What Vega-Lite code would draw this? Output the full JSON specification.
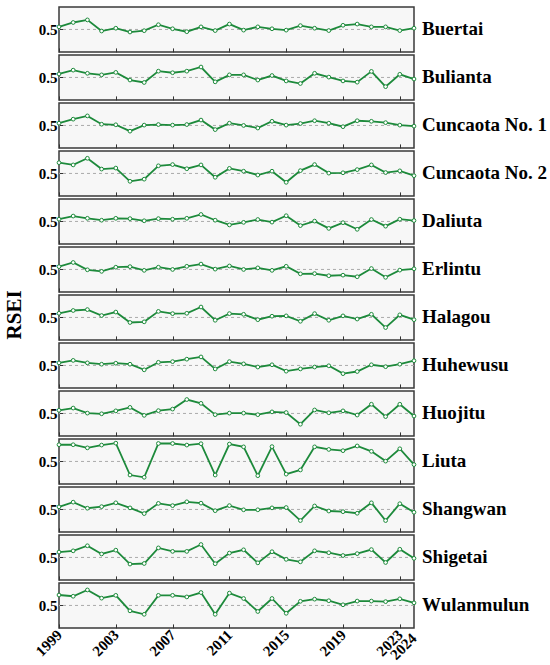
{
  "$schema": "https://vega.github.io/schema/vega-lite/v6.json",
  "padding": {"left": 4, "top": 6, "right": 0, "bottom": 0},
  "title": {"text": "RSEI", "orient": "left", "anchor": "middle", "angle": 270, "align": "center", "baseline": "bottom", "offset": -14, "dx": 20, "fontSize": 21, "font": "Liberation Serif", "fontWeight": "bold", "color": "black"},
  "data": {"values": [
    {"year": 1999, "Buertai": 0.523, "Bulianta": 0.531, "Cuncaota1": 0.52, "Cuncaota2": 0.596, "Daliuta": 0.52, "Erlintu": 0.525, "Halagou": 0.537, "Huhewusu": 0.523, "Huojitu": 0.528, "Liuta": 0.649, "Shangwan": 0.523, "Shigetai": 0.548, "Wulanmulun": 0.593},
    {"year": 2000, "Buertai": 0.562, "Bulianta": 0.565, "Cuncaota1": 0.556, "Cuncaota2": 0.576, "Daliuta": 0.548, "Erlintu": 0.562, "Halagou": 0.562, "Huhewusu": 0.545, "Huojitu": 0.548, "Liuta": 0.649, "Shangwan": 0.565, "Shigetai": 0.559, "Wulanmulun": 0.582},
    {"year": 2001, "Buertai": 0.585, "Bulianta": 0.537, "Cuncaota1": 0.585, "Cuncaota2": 0.635, "Daliuta": 0.528, "Erlintu": 0.497, "Halagou": 0.57, "Huhewusu": 0.523, "Huojitu": 0.503, "Liuta": 0.621, "Shangwan": 0.511, "Shigetai": 0.604, "Wulanmulun": 0.638},
    {"year": 2002, "Buertai": 0.486, "Bulianta": 0.523, "Cuncaota1": 0.511, "Cuncaota2": 0.539, "Daliuta": 0.511, "Erlintu": 0.483, "Halagou": 0.517, "Huhewusu": 0.511, "Huojitu": 0.497, "Liuta": 0.646, "Shangwan": 0.525, "Shigetai": 0.531, "Wulanmulun": 0.565},
    {"year": 2003, "Buertai": 0.511, "Bulianta": 0.545, "Cuncaota1": 0.506, "Cuncaota2": 0.548, "Daliuta": 0.528, "Erlintu": 0.52, "Halagou": 0.548, "Huhewusu": 0.52, "Huojitu": 0.523, "Liuta": 0.663, "Shangwan": 0.559, "Shigetai": 0.565, "Wulanmulun": 0.59},
    {"year": 2004, "Buertai": 0.477, "Bulianta": 0.477, "Cuncaota1": 0.449, "Cuncaota2": 0.43, "Daliuta": 0.525, "Erlintu": 0.525, "Halagou": 0.455, "Huhewusu": 0.511, "Huojitu": 0.554, "Liuta": 0.379, "Shangwan": 0.514, "Shigetai": 0.441, "Wulanmulun": 0.452},
    {"year": 2005, "Buertai": 0.489, "Bulianta": 0.455, "Cuncaota1": 0.503, "Cuncaota2": 0.449, "Daliuta": 0.506, "Erlintu": 0.492, "Halagou": 0.461, "Huhewusu": 0.461, "Huojitu": 0.483, "Liuta": 0.359, "Shangwan": 0.463, "Shigetai": 0.446, "Wulanmulun": 0.421},
    {"year": 2006, "Buertai": 0.542, "Bulianta": 0.556, "Cuncaota1": 0.508, "Cuncaota2": 0.568, "Daliuta": 0.525, "Erlintu": 0.52, "Halagou": 0.554, "Huhewusu": 0.528, "Huojitu": 0.525, "Liuta": 0.66, "Shangwan": 0.554, "Shigetai": 0.585, "Wulanmulun": 0.59},
    {"year": 2007, "Buertai": 0.506, "Bulianta": 0.542, "Cuncaota1": 0.503, "Cuncaota2": 0.579, "Daliuta": 0.52, "Erlintu": 0.5, "Halagou": 0.534, "Huhewusu": 0.534, "Huojitu": 0.539, "Liuta": 0.66, "Shangwan": 0.534, "Shigetai": 0.554, "Wulanmulun": 0.59},
    {"year": 2008, "Buertai": 0.48, "Bulianta": 0.556, "Cuncaota1": 0.508, "Cuncaota2": 0.542, "Daliuta": 0.528, "Erlintu": 0.528, "Halagou": 0.537, "Huhewusu": 0.556, "Huojitu": 0.624, "Liuta": 0.646, "Shangwan": 0.568, "Shigetai": 0.554, "Wulanmulun": 0.576},
    {"year": 2009, "Buertai": 0.523, "Bulianta": 0.593, "Cuncaota1": 0.548, "Cuncaota2": 0.576, "Daliuta": 0.562, "Erlintu": 0.548, "Halagou": 0.593, "Huhewusu": 0.576, "Huojitu": 0.59, "Liuta": 0.658, "Shangwan": 0.556, "Shigetai": 0.615, "Wulanmulun": 0.615},
    {"year": 2010, "Buertai": 0.49, "Bulianta": 0.461, "Cuncaota1": 0.463, "Cuncaota2": 0.466, "Daliuta": 0.511, "Erlintu": 0.503, "Halagou": 0.475, "Huhewusu": 0.469, "Huojitu": 0.489, "Liuta": 0.379, "Shangwan": 0.489, "Shigetai": 0.444, "Wulanmulun": 0.421},
    {"year": 2011, "Buertai": 0.548, "Bulianta": 0.523, "Cuncaota1": 0.52, "Cuncaota2": 0.545, "Daliuta": 0.469, "Erlintu": 0.531, "Halagou": 0.534, "Huhewusu": 0.534, "Huojitu": 0.503, "Liuta": 0.655, "Shangwan": 0.534, "Shigetai": 0.539, "Wulanmulun": 0.61},
    {"year": 2012, "Buertai": 0.494, "Bulianta": 0.523, "Cuncaota1": 0.5, "Cuncaota2": 0.52, "Daliuta": 0.492, "Erlintu": 0.5, "Halagou": 0.528, "Huhewusu": 0.514, "Huojitu": 0.503, "Liuta": 0.63, "Shangwan": 0.497, "Shigetai": 0.568, "Wulanmulun": 0.562},
    {"year": 2013, "Buertai": 0.523, "Bulianta": 0.477, "Cuncaota1": 0.477, "Cuncaota2": 0.486, "Daliuta": 0.517, "Erlintu": 0.514, "Halagou": 0.48, "Huhewusu": 0.486, "Huojitu": 0.489, "Liuta": 0.373, "Shangwan": 0.497, "Shigetai": 0.452, "Wulanmulun": 0.446},
    {"year": 2014, "Buertai": 0.506, "Bulianta": 0.517, "Cuncaota1": 0.537, "Cuncaota2": 0.52, "Daliuta": 0.494, "Erlintu": 0.492, "Halagou": 0.511, "Huhewusu": 0.506, "Huojitu": 0.514, "Liuta": 0.632, "Shangwan": 0.514, "Shigetai": 0.551, "Wulanmulun": 0.562},
    {"year": 2015, "Buertai": 0.494, "Bulianta": 0.469, "Cuncaota1": 0.503, "Cuncaota2": 0.421, "Daliuta": 0.551, "Erlintu": 0.528, "Halagou": 0.514, "Huhewusu": 0.449, "Huojitu": 0.508, "Liuta": 0.387, "Shangwan": 0.517, "Shigetai": 0.483, "Wulanmulun": 0.43},
    {"year": 2016, "Buertai": 0.534, "Bulianta": 0.446, "Cuncaota1": 0.517, "Cuncaota2": 0.525, "Daliuta": 0.463, "Erlintu": 0.461, "Halagou": 0.466, "Huhewusu": 0.469, "Huojitu": 0.404, "Liuta": 0.424, "Shangwan": 0.401, "Shigetai": 0.461, "Wulanmulun": 0.537},
    {"year": 2017, "Buertai": 0.511, "Bulianta": 0.537, "Cuncaota1": 0.542, "Cuncaota2": 0.579, "Daliuta": 0.503, "Erlintu": 0.463, "Halagou": 0.534, "Huhewusu": 0.486, "Huojitu": 0.531, "Liuta": 0.63, "Shangwan": 0.531, "Shigetai": 0.559, "Wulanmulun": 0.556},
    {"year": 2018, "Buertai": 0.49, "Bulianta": 0.503, "Cuncaota1": 0.52, "Cuncaota2": 0.503, "Daliuta": 0.438, "Erlintu": 0.444, "Halagou": 0.475, "Huhewusu": 0.497, "Huojitu": 0.506, "Liuta": 0.607, "Shangwan": 0.486, "Shigetai": 0.542, "Wulanmulun": 0.542},
    {"year": 2019, "Buertai": 0.537, "Bulianta": 0.469, "Cuncaota1": 0.489, "Cuncaota2": 0.506, "Daliuta": 0.489, "Erlintu": 0.449, "Halagou": 0.514, "Huhewusu": 0.427, "Huojitu": 0.523, "Liuta": 0.596, "Shangwan": 0.48, "Shigetai": 0.517, "Wulanmulun": 0.506},
    {"year": 2020, "Buertai": 0.548, "Bulianta": 0.458, "Cuncaota1": 0.542, "Cuncaota2": 0.534, "Daliuta": 0.43, "Erlintu": 0.435, "Halagou": 0.486, "Huhewusu": 0.446, "Huojitu": 0.486, "Liuta": 0.638, "Shangwan": 0.466, "Shigetai": 0.534, "Wulanmulun": 0.539},
    {"year": 2021, "Buertai": 0.523, "Bulianta": 0.554, "Cuncaota1": 0.537, "Cuncaota2": 0.576, "Daliuta": 0.517, "Erlintu": 0.508, "Halagou": 0.528, "Huhewusu": 0.506, "Huojitu": 0.582, "Liuta": 0.59, "Shangwan": 0.559, "Shigetai": 0.57, "Wulanmulun": 0.539},
    {"year": 2022, "Buertai": 0.523, "Bulianta": 0.418, "Cuncaota1": 0.525, "Cuncaota2": 0.508, "Daliuta": 0.458, "Erlintu": 0.43, "Halagou": 0.41, "Huhewusu": 0.489, "Huojitu": 0.472, "Liuta": 0.503, "Shangwan": 0.401, "Shigetai": 0.455, "Wulanmulun": 0.534},
    {"year": 2023, "Buertai": 0.49, "Bulianta": 0.528, "Cuncaota1": 0.503, "Cuncaota2": 0.523, "Daliuta": 0.52, "Erlintu": 0.494, "Halagou": 0.523, "Huhewusu": 0.511, "Huojitu": 0.582, "Liuta": 0.613, "Shangwan": 0.551, "Shigetai": 0.573, "Wulanmulun": 0.559},
    {"year": 2024, "Buertai": 0.511, "Bulianta": 0.486, "Cuncaota1": 0.494, "Cuncaota2": 0.48, "Daliuta": 0.508, "Erlintu": 0.506, "Halagou": 0.48, "Huhewusu": 0.542, "Huojitu": 0.477, "Liuta": 0.472, "Shangwan": 0.475, "Shigetai": 0.492, "Wulanmulun": 0.523}
  ]},
  "spacing": 0,
  "vconcat": [
    {"width": 355, "height": 44.9, "layer": [
      {"data": {"values": [{}]}, "mark": {"type": "rule"}, "encoding": {"y": {"datum": 0.5, "type": "quantitative", "title": null}}},
      {"mark": {"type": "line", "color": "#1d8a3b", "strokeWidth": 1.8, "point": {"filled": true, "fill": "white", "stroke": "#1d8a3b", "strokeWidth": 1, "size": 14}},
       "encoding": {"x": {"field": "year", "type": "quantitative", "title": null, "scale": {"domain": [1999, 2024], "nice": false, "zero": false}, "axis": {"values": [1999, 2001, 2003, 2005, 2007, 2009, 2011, 2013, 2015, 2017, 2019, 2021, 2023], "labels": false, "labelOverlap": false}},
                    "y": {"field": "Buertai", "type": "quantitative", "title": null, "scale": {"domain": [0.3, 0.7], "nice": false, "zero": false}, "axis": {"values": [0.5], "format": ".1f", "labelOverlap": false, "minExtent": 24, "maxExtent": 24}}}},
      {"data": {"values": [{"t": "Buertai"}]}, "mark": {"type": "text"}, "encoding": {"x": {"datum": 2024, "type": "quantitative", "title": null}, "y": {"datum": 0.5, "type": "quantitative", "title": null}, "text": {"field": "t"}}}
    ]},
    {"width": 355, "height": 44.9, "layer": [
      {"data": {"values": [{}]}, "mark": {"type": "rule"}, "encoding": {"y": {"datum": 0.5, "type": "quantitative", "title": null}}},
      {"mark": {"type": "line", "color": "#1d8a3b", "strokeWidth": 1.8, "point": {"filled": true, "fill": "white", "stroke": "#1d8a3b", "strokeWidth": 1, "size": 14}},
       "encoding": {"x": {"field": "year", "type": "quantitative", "title": null, "scale": {"domain": [1999, 2024], "nice": false, "zero": false}, "axis": {"values": [1999, 2001, 2003, 2005, 2007, 2009, 2011, 2013, 2015, 2017, 2019, 2021, 2023], "labels": false, "labelOverlap": false}},
                    "y": {"field": "Bulianta", "type": "quantitative", "title": null, "scale": {"domain": [0.3, 0.7], "nice": false, "zero": false}, "axis": {"values": [0.5], "format": ".1f", "labelOverlap": false, "minExtent": 24, "maxExtent": 24}}}},
      {"data": {"values": [{"t": "Bulianta"}]}, "mark": {"type": "text"}, "encoding": {"x": {"datum": 2024, "type": "quantitative", "title": null}, "y": {"datum": 0.5, "type": "quantitative", "title": null}, "text": {"field": "t"}}}
    ]},
    {"width": 355, "height": 44.9, "layer": [
      {"data": {"values": [{}]}, "mark": {"type": "rule"}, "encoding": {"y": {"datum": 0.5, "type": "quantitative", "title": null}}},
      {"mark": {"type": "line", "color": "#1d8a3b", "strokeWidth": 1.8, "point": {"filled": true, "fill": "white", "stroke": "#1d8a3b", "strokeWidth": 1, "size": 14}},
       "encoding": {"x": {"field": "year", "type": "quantitative", "title": null, "scale": {"domain": [1999, 2024], "nice": false, "zero": false}, "axis": {"values": [1999, 2001, 2003, 2005, 2007, 2009, 2011, 2013, 2015, 2017, 2019, 2021, 2023], "labels": false, "labelOverlap": false}},
                    "y": {"field": "Cuncaota1", "type": "quantitative", "title": null, "scale": {"domain": [0.3, 0.7], "nice": false, "zero": false}, "axis": {"values": [0.5], "format": ".1f", "labelOverlap": false, "minExtent": 24, "maxExtent": 24}}}},
      {"data": {"values": [{"t": "Cuncaota No. 1"}]}, "mark": {"type": "text"}, "encoding": {"x": {"datum": 2024, "type": "quantitative", "title": null}, "y": {"datum": 0.5, "type": "quantitative", "title": null}, "text": {"field": "t"}}}
    ]},
    {"width": 355, "height": 44.9, "layer": [
      {"data": {"values": [{}]}, "mark": {"type": "rule"}, "encoding": {"y": {"datum": 0.5, "type": "quantitative", "title": null}}},
      {"mark": {"type": "line", "color": "#1d8a3b", "strokeWidth": 1.8, "point": {"filled": true, "fill": "white", "stroke": "#1d8a3b", "strokeWidth": 1, "size": 14}},
       "encoding": {"x": {"field": "year", "type": "quantitative", "title": null, "scale": {"domain": [1999, 2024], "nice": false, "zero": false}, "axis": {"values": [1999, 2001, 2003, 2005, 2007, 2009, 2011, 2013, 2015, 2017, 2019, 2021, 2023], "labels": false, "labelOverlap": false}},
                    "y": {"field": "Cuncaota2", "type": "quantitative", "title": null, "scale": {"domain": [0.3, 0.7], "nice": false, "zero": false}, "axis": {"values": [0.5], "format": ".1f", "labelOverlap": false, "minExtent": 24, "maxExtent": 24}}}},
      {"data": {"values": [{"t": "Cuncaota No. 2"}]}, "mark": {"type": "text"}, "encoding": {"x": {"datum": 2024, "type": "quantitative", "title": null}, "y": {"datum": 0.5, "type": "quantitative", "title": null}, "text": {"field": "t"}}}
    ]},
    {"width": 355, "height": 44.9, "layer": [
      {"data": {"values": [{}]}, "mark": {"type": "rule"}, "encoding": {"y": {"datum": 0.5, "type": "quantitative", "title": null}}},
      {"mark": {"type": "line", "color": "#1d8a3b", "strokeWidth": 1.8, "point": {"filled": true, "fill": "white", "stroke": "#1d8a3b", "strokeWidth": 1, "size": 14}},
       "encoding": {"x": {"field": "year", "type": "quantitative", "title": null, "scale": {"domain": [1999, 2024], "nice": false, "zero": false}, "axis": {"values": [1999, 2001, 2003, 2005, 2007, 2009, 2011, 2013, 2015, 2017, 2019, 2021, 2023], "labels": false, "labelOverlap": false}},
                    "y": {"field": "Daliuta", "type": "quantitative", "title": null, "scale": {"domain": [0.3, 0.7], "nice": false, "zero": false}, "axis": {"values": [0.5], "format": ".1f", "labelOverlap": false, "minExtent": 24, "maxExtent": 24}}}},
      {"data": {"values": [{"t": "Daliuta"}]}, "mark": {"type": "text"}, "encoding": {"x": {"datum": 2024, "type": "quantitative", "title": null}, "y": {"datum": 0.5, "type": "quantitative", "title": null}, "text": {"field": "t"}}}
    ]},
    {"width": 355, "height": 44.9, "layer": [
      {"data": {"values": [{}]}, "mark": {"type": "rule"}, "encoding": {"y": {"datum": 0.5, "type": "quantitative", "title": null}}},
      {"mark": {"type": "line", "color": "#1d8a3b", "strokeWidth": 1.8, "point": {"filled": true, "fill": "white", "stroke": "#1d8a3b", "strokeWidth": 1, "size": 14}},
       "encoding": {"x": {"field": "year", "type": "quantitative", "title": null, "scale": {"domain": [1999, 2024], "nice": false, "zero": false}, "axis": {"values": [1999, 2001, 2003, 2005, 2007, 2009, 2011, 2013, 2015, 2017, 2019, 2021, 2023], "labels": false, "labelOverlap": false}},
                    "y": {"field": "Erlintu", "type": "quantitative", "title": null, "scale": {"domain": [0.3, 0.7], "nice": false, "zero": false}, "axis": {"values": [0.5], "format": ".1f", "labelOverlap": false, "minExtent": 24, "maxExtent": 24}}}},
      {"data": {"values": [{"t": "Erlintu"}]}, "mark": {"type": "text"}, "encoding": {"x": {"datum": 2024, "type": "quantitative", "title": null}, "y": {"datum": 0.5, "type": "quantitative", "title": null}, "text": {"field": "t"}}}
    ]},
    {"width": 355, "height": 44.9, "layer": [
      {"data": {"values": [{}]}, "mark": {"type": "rule"}, "encoding": {"y": {"datum": 0.5, "type": "quantitative", "title": null}}},
      {"mark": {"type": "line", "color": "#1d8a3b", "strokeWidth": 1.8, "point": {"filled": true, "fill": "white", "stroke": "#1d8a3b", "strokeWidth": 1, "size": 14}},
       "encoding": {"x": {"field": "year", "type": "quantitative", "title": null, "scale": {"domain": [1999, 2024], "nice": false, "zero": false}, "axis": {"values": [1999, 2001, 2003, 2005, 2007, 2009, 2011, 2013, 2015, 2017, 2019, 2021, 2023], "labels": false, "labelOverlap": false}},
                    "y": {"field": "Halagou", "type": "quantitative", "title": null, "scale": {"domain": [0.3, 0.7], "nice": false, "zero": false}, "axis": {"values": [0.5], "format": ".1f", "labelOverlap": false, "minExtent": 24, "maxExtent": 24}}}},
      {"data": {"values": [{"t": "Halagou"}]}, "mark": {"type": "text"}, "encoding": {"x": {"datum": 2024, "type": "quantitative", "title": null}, "y": {"datum": 0.5, "type": "quantitative", "title": null}, "text": {"field": "t"}}}
    ]},
    {"width": 355, "height": 44.9, "layer": [
      {"data": {"values": [{}]}, "mark": {"type": "rule"}, "encoding": {"y": {"datum": 0.5, "type": "quantitative", "title": null}}},
      {"mark": {"type": "line", "color": "#1d8a3b", "strokeWidth": 1.8, "point": {"filled": true, "fill": "white", "stroke": "#1d8a3b", "strokeWidth": 1, "size": 14}},
       "encoding": {"x": {"field": "year", "type": "quantitative", "title": null, "scale": {"domain": [1999, 2024], "nice": false, "zero": false}, "axis": {"values": [1999, 2001, 2003, 2005, 2007, 2009, 2011, 2013, 2015, 2017, 2019, 2021, 2023], "labels": false, "labelOverlap": false}},
                    "y": {"field": "Huhewusu", "type": "quantitative", "title": null, "scale": {"domain": [0.3, 0.7], "nice": false, "zero": false}, "axis": {"values": [0.5], "format": ".1f", "labelOverlap": false, "minExtent": 24, "maxExtent": 24}}}},
      {"data": {"values": [{"t": "Huhewusu"}]}, "mark": {"type": "text"}, "encoding": {"x": {"datum": 2024, "type": "quantitative", "title": null}, "y": {"datum": 0.5, "type": "quantitative", "title": null}, "text": {"field": "t"}}}
    ]},
    {"width": 355, "height": 44.9, "layer": [
      {"data": {"values": [{}]}, "mark": {"type": "rule"}, "encoding": {"y": {"datum": 0.5, "type": "quantitative", "title": null}}},
      {"mark": {"type": "line", "color": "#1d8a3b", "strokeWidth": 1.8, "point": {"filled": true, "fill": "white", "stroke": "#1d8a3b", "strokeWidth": 1, "size": 14}},
       "encoding": {"x": {"field": "year", "type": "quantitative", "title": null, "scale": {"domain": [1999, 2024], "nice": false, "zero": false}, "axis": {"values": [1999, 2001, 2003, 2005, 2007, 2009, 2011, 2013, 2015, 2017, 2019, 2021, 2023], "labels": false, "labelOverlap": false}},
                    "y": {"field": "Huojitu", "type": "quantitative", "title": null, "scale": {"domain": [0.3, 0.7], "nice": false, "zero": false}, "axis": {"values": [0.5], "format": ".1f", "labelOverlap": false, "minExtent": 24, "maxExtent": 24}}}},
      {"data": {"values": [{"t": "Huojitu"}]}, "mark": {"type": "text"}, "encoding": {"x": {"datum": 2024, "type": "quantitative", "title": null}, "y": {"datum": 0.5, "type": "quantitative", "title": null}, "text": {"field": "t"}}}
    ]},
    {"width": 355, "height": 44.9, "layer": [
      {"data": {"values": [{}]}, "mark": {"type": "rule"}, "encoding": {"y": {"datum": 0.5, "type": "quantitative", "title": null}}},
      {"mark": {"type": "line", "color": "#1d8a3b", "strokeWidth": 1.8, "point": {"filled": true, "fill": "white", "stroke": "#1d8a3b", "strokeWidth": 1, "size": 14}},
       "encoding": {"x": {"field": "year", "type": "quantitative", "title": null, "scale": {"domain": [1999, 2024], "nice": false, "zero": false}, "axis": {"values": [1999, 2001, 2003, 2005, 2007, 2009, 2011, 2013, 2015, 2017, 2019, 2021, 2023], "labels": false, "labelOverlap": false}},
                    "y": {"field": "Liuta", "type": "quantitative", "title": null, "scale": {"domain": [0.3, 0.7], "nice": false, "zero": false}, "axis": {"values": [0.5], "format": ".1f", "labelOverlap": false, "minExtent": 24, "maxExtent": 24}}}},
      {"data": {"values": [{"t": "Liuta"}]}, "mark": {"type": "text"}, "encoding": {"x": {"datum": 2024, "type": "quantitative", "title": null}, "y": {"datum": 0.5, "type": "quantitative", "title": null}, "text": {"field": "t"}}}
    ]},
    {"width": 355, "height": 44.9, "layer": [
      {"data": {"values": [{}]}, "mark": {"type": "rule"}, "encoding": {"y": {"datum": 0.5, "type": "quantitative", "title": null}}},
      {"mark": {"type": "line", "color": "#1d8a3b", "strokeWidth": 1.8, "point": {"filled": true, "fill": "white", "stroke": "#1d8a3b", "strokeWidth": 1, "size": 14}},
       "encoding": {"x": {"field": "year", "type": "quantitative", "title": null, "scale": {"domain": [1999, 2024], "nice": false, "zero": false}, "axis": {"values": [1999, 2001, 2003, 2005, 2007, 2009, 2011, 2013, 2015, 2017, 2019, 2021, 2023], "labels": false, "labelOverlap": false}},
                    "y": {"field": "Shangwan", "type": "quantitative", "title": null, "scale": {"domain": [0.3, 0.7], "nice": false, "zero": false}, "axis": {"values": [0.5], "format": ".1f", "labelOverlap": false, "minExtent": 24, "maxExtent": 24}}}},
      {"data": {"values": [{"t": "Shangwan"}]}, "mark": {"type": "text"}, "encoding": {"x": {"datum": 2024, "type": "quantitative", "title": null}, "y": {"datum": 0.5, "type": "quantitative", "title": null}, "text": {"field": "t"}}}
    ]},
    {"width": 355, "height": 44.9, "layer": [
      {"data": {"values": [{}]}, "mark": {"type": "rule"}, "encoding": {"y": {"datum": 0.5, "type": "quantitative", "title": null}}},
      {"mark": {"type": "line", "color": "#1d8a3b", "strokeWidth": 1.8, "point": {"filled": true, "fill": "white", "stroke": "#1d8a3b", "strokeWidth": 1, "size": 14}},
       "encoding": {"x": {"field": "year", "type": "quantitative", "title": null, "scale": {"domain": [1999, 2024], "nice": false, "zero": false}, "axis": {"values": [1999, 2001, 2003, 2005, 2007, 2009, 2011, 2013, 2015, 2017, 2019, 2021, 2023], "labels": false, "labelOverlap": false}},
                    "y": {"field": "Shigetai", "type": "quantitative", "title": null, "scale": {"domain": [0.3, 0.7], "nice": false, "zero": false}, "axis": {"values": [0.5], "format": ".1f", "labelOverlap": false, "minExtent": 24, "maxExtent": 24}}}},
      {"data": {"values": [{"t": "Shigetai"}]}, "mark": {"type": "text"}, "encoding": {"x": {"datum": 2024, "type": "quantitative", "title": null}, "y": {"datum": 0.5, "type": "quantitative", "title": null}, "text": {"field": "t"}}}
    ]},
    {"width": 355, "height": 44.9, "layer": [
      {"data": {"values": [{}]}, "mark": {"type": "rule"}, "encoding": {"y": {"datum": 0.5, "type": "quantitative", "title": null}}},
      {"mark": {"type": "line", "color": "#1d8a3b", "strokeWidth": 1.8, "point": {"filled": true, "fill": "white", "stroke": "#1d8a3b", "strokeWidth": 1, "size": 14}},
       "encoding": {"x": {"field": "year", "type": "quantitative", "title": null, "scale": {"domain": [1999, 2024], "nice": false, "zero": false}, "axis": {"values": [1999, 2001, 2003, 2005, 2007, 2009, 2011, 2013, 2015, 2017, 2019, 2021, 2023], "labels": true, "labelOverlap": false}},
                    "y": {"field": "Wulanmulun", "type": "quantitative", "title": null, "scale": {"domain": [0.3, 0.7], "nice": false, "zero": false}, "axis": {"values": [0.5], "format": ".1f", "labelOverlap": false, "minExtent": 24, "maxExtent": 24}}}},
      {"data": {"values": [{"t": "Wulanmulun"}]}, "mark": {"type": "text"}, "encoding": {"x": {"datum": 2024, "type": "quantitative", "title": null}, "y": {"datum": 0.5, "type": "quantitative", "title": null}, "text": {"field": "t"}}},
      {"data": {"values": [{"t": "2024"}]}, "mark": {"type": "text", "align": "right", "baseline": "middle", "angle": 315, "dx": -5.7, "dy": 5.7, "fontSize": 15}, "encoding": {"x": {"datum": 2024, "type": "quantitative", "title": null}, "y": {"datum": 0.3, "type": "quantitative", "title": null}, "text": {"field": "t"}}}
    ]}
  ],
  "config": {
    "font": "Liberation Serif",
    "view": {"stroke": "#3a3a3a", "strokeWidth": 1.5, "fill": "#f7f7f7"},
    "text": {"align": "left", "baseline": "middle", "dx": 8, "fontSize": 19, "font": "Liberation Serif", "fontWeight": "bold", "color": "black"},
    "rule": {"color": "#aaaaaa", "strokeDash": [3, 3], "strokeWidth": 1},
    "axis": {"domain": false, "grid": false, "tickColor": "#333", "tickWidth": 1, "labelFont": "Liberation Serif", "labelFontWeight": "bold", "labelFontSize": 15, "labelColor": "black"},
    "axisX": {"format": "d", "tickSize": -4, "labelAngle": -45, "labelAlign": "right", "labelBaseline": "middle", "labelPadding": 8, "labelFlush": false},
    "axisY": {"tickSize": -4, "labelPadding": 6}
  }
}
